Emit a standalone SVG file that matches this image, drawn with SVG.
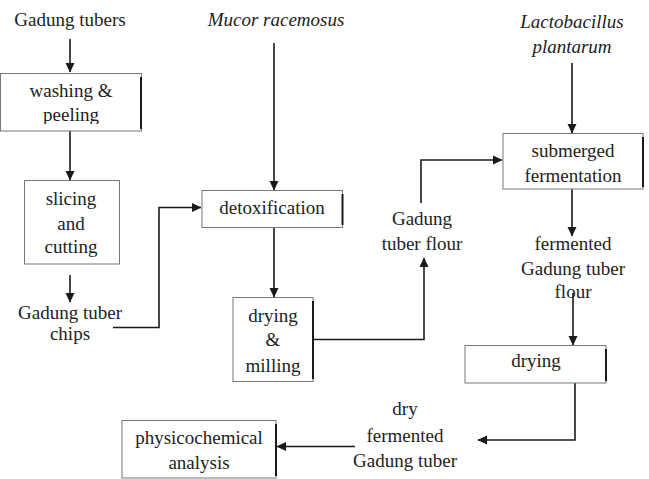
<svg xmlns="http://www.w3.org/2000/svg" width="649" height="479" viewBox="0 0 649 479">
<style>
text{font-family:'Liberation Serif','Times New Roman',Tinos,'DejaVu Serif',serif;font-size:19px;fill:#222;text-anchor:middle}
.it{font-style:italic}
.box{fill:#fff;stroke:#777;stroke-width:1}
.edge{stroke:#1a1a1a;stroke-width:2}
.c{fill:none;stroke:#1a1a1a;stroke-width:1.6}
</style>
<defs>
<marker id="ah" markerWidth="10" markerHeight="10" refX="9" refY="5" orient="auto" markerUnits="userSpaceOnUse">
<path d="M0,0.5 L9.5,5 L0,9.5 z" fill="#1a1a1a"/>
</marker>
<clipPath id="clipWash"><rect x="0" y="73" width="142" height="51"/></clipPath>
</defs>
<rect width="649" height="479" fill="#fff"/>

<g id="connectors">
<path class="c" d="M70,39 V72" marker-end="url(#ah)"/>
<path class="c" d="M70,131 V180" marker-end="url(#ah)"/>
<path class="c" d="M70,275 V302" marker-end="url(#ah)"/>
<path class="c" d="M113,327.5 H159 V207.5 H201" marker-end="url(#ah)"/>
<path class="c" d="M274,43 V190" marker-end="url(#ah)"/>
<path class="c" d="M274,228 V297" marker-end="url(#ah)"/>
<path class="c" d="M313,339.5 H424 V258" marker-end="url(#ah)"/>
<path class="c" d="M421,203 V160 H502" marker-end="url(#ah)"/>
<path class="c" d="M572,63 V133" marker-end="url(#ah)"/>
<path class="c" d="M572,189 V236" marker-end="url(#ah)"/>
<path class="c" d="M573,293 V345" marker-end="url(#ah)"/>
<path class="c" d="M575,383 V440 H478" marker-end="url(#ah)"/>
<path class="c" d="M355,446.5 H277" marker-end="url(#ah)"/>
</g>

<g id="gadung-tubers"><text x="70" y="26">Gadung tubers</text></g>

<g id="washing">
<rect class="box" x="0.5" y="73.5" width="141" height="57.5"/>
<line class="edge" x1="141" y1="77" x2="141" y2="129"/>
<g clip-path="url(#clipWash)">
<text x="71" y="97">washing &amp;</text>
<text x="71" y="121">peeling</text>
</g>
</g>

<g id="slicing">
<rect class="box" x="24.5" y="180.5" width="95" height="83.5"/>
<text x="71" y="205">slicing</text>
<text x="71" y="230">and</text>
<text x="71" y="253">cutting</text>
</g>

<g id="chips">
<text x="70" y="319">Gadung tuber</text>
<text x="70" y="340">chips</text>
</g>

<g id="mucor"><text class="it" x="276" y="26">Mucor racemosus</text></g>

<g id="detoxification">
<rect class="box" x="202" y="190.5" width="140.5" height="37"/>
<line class="edge" x1="342.5" y1="194" x2="342.5" y2="225"/>
<text x="272" y="214">detoxification</text>
</g>

<g id="drying-milling">
<rect class="box" x="233" y="297.5" width="80" height="84"/>
<line class="edge" x1="313" y1="301" x2="313" y2="379"/>
<text x="273" y="322">drying</text>
<text x="273" y="346">&amp;</text>
<text x="273" y="372">milling</text>
</g>

<g id="flour">
<text x="422" y="225">Gadung</text>
<text x="422" y="250">tuber flour</text>
</g>

<g id="lactobacillus">
<text class="it" x="572" y="28">Lactobacillus</text>
<text class="it" x="572" y="53">plantarum</text>
</g>

<g id="submerged">
<rect class="box" x="503" y="133.5" width="140" height="55.5"/>
<line class="edge" x1="643" y1="137" x2="643" y2="187"/>
<text x="573" y="157">submerged</text>
<text x="573" y="182">fermentation</text>
</g>

<g id="fermented-flour">
<text x="573" y="250">fermented</text>
<text x="573" y="275">Gadung tuber</text>
<text x="573" y="298">flour</text>
</g>

<g id="drying">
<rect class="box" x="465" y="345.5" width="141" height="37.5"/>
<line class="edge" x1="606" y1="349" x2="606" y2="381"/>
<text x="536" y="367">drying</text>
</g>

<g id="dry-fermented">
<text x="405" y="415">dry</text>
<text x="405" y="442">fermented</text>
<text x="405" y="467">Gadung tuber</text>
</g>

<g id="physicochemical">
<rect class="box" x="122" y="420.5" width="154" height="57.5"/>
<line class="edge" x1="276" y1="424" x2="276" y2="476"/>
<text x="199" y="444">physicochemical</text>
<text x="199" y="469">analysis</text>
</g>
</svg>
